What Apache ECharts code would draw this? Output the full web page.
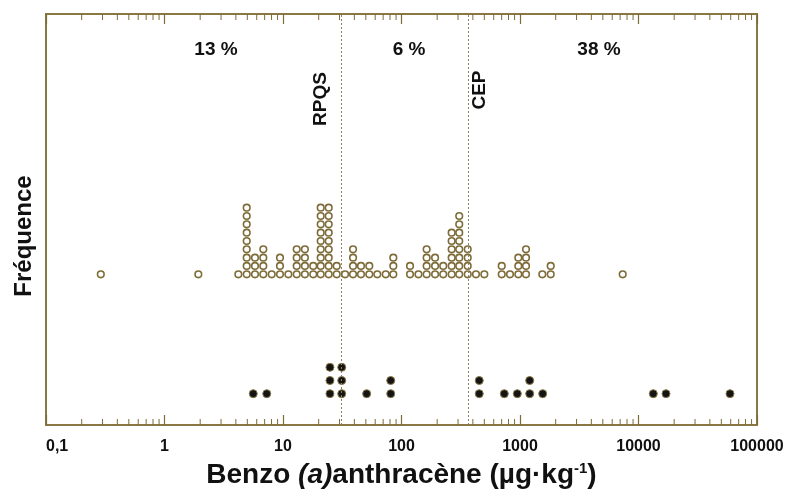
<!DOCTYPE html>
<html><head><meta charset="utf-8">
<script src="https://cdn.jsdelivr.net/npm/echarts@6/dist/echarts.min.js"></script>
<style>html,body{margin:0;padding:0;background:#fff}#c{width:794px;height:498px}</style>
</head><body><div id="c"></div>
<script>
// ---- data ----
const tickLabels = ['0,1', '1', '10', '100', '1000', '10000', '100000'];
const openValues = [0.29, 1.93, 4.2, 4.94, 5.8, 6.82, 8.03, 9.43, 11.1, 13.05, 15.3, 18.0, 20.8, 24.3, 28.4, 33.4, 39.0,
  45.5, 53.5, 62.5, 73.6, 85.3, 118, 139, 163, 192, 225, 265, 307, 362, 425, 500, 701, 823, 968, 1124, 1543, 1816, 7356];
const openCounts = [1, 1, 1, 9, 3, 4, 1, 3, 1, 4, 4, 2, 9, 9, 2, 1, 4,
  2, 2, 1, 1, 3, 2, 1, 4, 3, 2, 6, 8, 4, 1, 1, 2, 1, 3, 4, 1, 2, 1];
const filledValues = [5.61, 7.29, 24.9, 31.3, 50.8, 81.1, 453, 737, 949, 1207, 1554, 13330, 17066, 59190];
const filledCounts = [1, 1, 3, 3, 1, 2, 2, 1, 1, 2, 1, 1, 1, 1];
const thresholds = [31, 366];
const thresholdNames = ['RPQS', 'CEP'];
const zoneLabels = ['13 %', '6 %', '38 %'];

// ---- layout (dot-plot stacking) ----
const Y_MAX = 411;
const openBase = 150.7, openStep = 8.33;
const filledBase = 31.3, filledStep = 13.2;

function stack(values, counts, base, step) {
  const pts = [];
  values.forEach((v, i) => {
    for (let k = 0; k < counts[i]; k++) pts.push([v, base + k * step]);
  });
  return pts;
}
const minorTicks = [];
for (let e = -1; e <= 4; e++) for (let m = 2; m <= 9; m++) minorTicks.push([m * Math.pow(10, e), 0]);

const olive = '#7d6b38';
const FONT = 'Liberation Sans';
const chart = echarts.init(document.getElementById('c'));
chart.setOption({
  animation: false,
  grid: { left: 46, right: 37, top: 14, bottom: 73, show: true, borderColor: '#8a7844', borderWidth: 2, backgroundColor: '#fff' },
  xAxis: [{
    type: 'log', logBase: 10, min: 0.1, max: 100000, splitNumber: 6, position: 'bottom',
    axisLine: { show: false },
    axisTick: { show: true, inside: true, length: 10, lineStyle: { color: olive, width: 1.2 } },
    splitLine: { show: false },
    axisLabel: { margin: 14, fontFamily: FONT, fontWeight: 'bold', fontSize: 16, color: '#111',
      alignMinLabel: 'left', formatter: (v, i) => tickLabels[i] },
    name: '{b|Benzo }{i|(a)}{b|anthracène (µg·kg}{s|-1}{b|)}',
    nameLocation: 'middle', nameGap: 36,
    nameTextStyle: { rich: {
      b: { fontFamily: FONT, fontWeight: 'bold', fontSize: 28, color: '#111' },
      i: { fontFamily: FONT, fontWeight: 'bold', fontStyle: 'italic', fontSize: 28, color: '#111' },
      s: { fontFamily: FONT, fontWeight: 'bold', fontSize: 15, color: '#111', padding: [0, 0, 14, 0] }
    } }
  }, {
    type: 'log', logBase: 10, min: 0.1, max: 100000, splitNumber: 6, position: 'top',
    axisLine: { show: false },
    axisTick: { show: true, inside: true, length: 10, lineStyle: { color: olive, width: 1.2 } },
    axisLabel: { show: false }, splitLine: { show: false }
  }],
  yAxis: { type: 'value', min: 0, max: Y_MAX, axisLine: { show: false }, axisTick: { show: false },
    axisLabel: { show: false }, splitLine: { show: false } },
  series: [{
    type: 'custom', xAxisIndex: 0, data: minorTicks, silent: true,
    renderItem: (params, api) => {
      const cs = params.coordSys;
      const x = api.coord([api.value(0), 0])[0];
      const st = { stroke: olive, lineWidth: 1 };
      return { type: 'group', children: [
        { type: 'line', shape: { x1: x, y1: cs.y + cs.height, x2: x, y2: cs.y + cs.height - 6 }, style: st },
        { type: 'line', shape: { x1: x, y1: cs.y, x2: x, y2: cs.y + 6 }, style: st }
      ] };
    }
  }, {
    type: 'scatter', data: stack(openValues, openCounts, openBase, openStep),
    symbol: 'circle', symbolSize: 6.6,
    itemStyle: { color: '#fff', borderColor: olive, borderWidth: 1.6, opacity: 1 },
    markLine: { silent: true, symbol: 'none', label: { show: false },
      lineStyle: { type: [2, 2], color: '#8c7f66', width: 1 },
      data: thresholds.map(t => ({ xAxis: t })) }
  }, {
    type: 'scatter', data: stack(filledValues, filledCounts, filledBase, filledStep),
    symbol: 'circle', symbolSize: 8,
    itemStyle: { color: '#141414', borderColor: '#8a7a48', borderWidth: 1, opacity: 1 }
  }],
  graphic: [
    { type: 'text', x: 216, y: 50, style: { text: zoneLabels[0], fontFamily: FONT, fontWeight: 'bold', fontSize: 19, fill: '#111', align: 'center', verticalAlign: 'middle' } },
    { type: 'text', x: 409, y: 50, style: { text: zoneLabels[1], fontFamily: FONT, fontWeight: 'bold', fontSize: 19, fill: '#111', align: 'center', verticalAlign: 'middle' } },
    { type: 'text', x: 599, y: 50, style: { text: zoneLabels[2], fontFamily: FONT, fontWeight: 'bold', fontSize: 19, fill: '#111', align: 'center', verticalAlign: 'middle' } },
    { type: 'text', x: 321, y: 99, rotation: Math.PI / 2, style: { text: thresholdNames[0], fontFamily: FONT, fontWeight: 'bold', fontSize: 19, fill: '#111', align: 'center', verticalAlign: 'middle' } },
    { type: 'text', x: 480, y: 90, rotation: Math.PI / 2, style: { text: thresholdNames[1], fontFamily: FONT, fontWeight: 'bold', fontSize: 19, fill: '#111', align: 'center', verticalAlign: 'middle' } },
    { type: 'text', x: 24, y: 236, rotation: Math.PI / 2, style: { text: 'Fréquence', fontFamily: FONT, fontWeight: 'bold', fontSize: 24, fill: '#111', align: 'center', verticalAlign: 'middle' } }
  ]
});
</script></body></html>
